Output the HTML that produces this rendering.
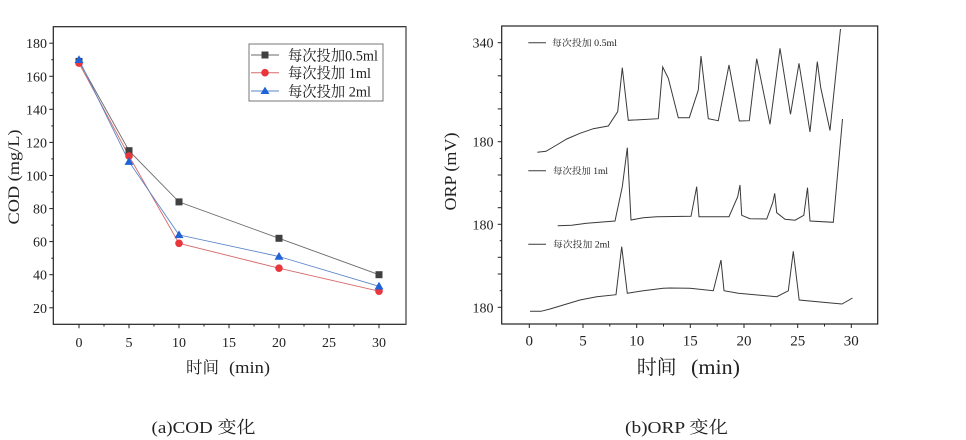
<!DOCTYPE html>
<html><head><meta charset="utf-8"><style>
html,body{margin:0;padding:0;background:#fff;}
svg{display:block;}
text{font-family:"Liberation Serif","Noto Serif CJK SC","Noto Sans CJK SC",serif;fill:#222;}
.cjk{font-family:"Liberation Serif","Noto Serif CJK SC",serif;}
</style></head><body>
<svg width="966" height="440" viewBox="0 0 966 440" xmlns="http://www.w3.org/2000/svg">
<rect width="966" height="440" fill="#fff"/>

<!-- ===== LEFT CHART (COD) ===== -->
<g>
<rect x="53.3" y="26.7" width="352.7" height="297.6" fill="none" stroke="#222" stroke-width="1.2"/>
<line x1="406" y1="26.7" x2="406" y2="324.3" stroke="#777" stroke-width="1.6"/>
<g stroke="#222" stroke-width="1">
<line x1="49.3" y1="307.8" x2="53.3" y2="307.8"/><line x1="49.3" y1="274.7" x2="53.3" y2="274.7"/>
<line x1="49.3" y1="241.6" x2="53.3" y2="241.6"/><line x1="49.3" y1="208.6" x2="53.3" y2="208.6"/>
<line x1="49.3" y1="175.5" x2="53.3" y2="175.5"/><line x1="49.3" y1="142.4" x2="53.3" y2="142.4"/>
<line x1="49.3" y1="109.3" x2="53.3" y2="109.3"/><line x1="49.3" y1="76.3" x2="53.3" y2="76.3"/>
<line x1="49.3" y1="43.2" x2="53.3" y2="43.2"/>
<line x1="51.3" y1="291.2" x2="53.3" y2="291.2"/><line x1="51.3" y1="258.2" x2="53.3" y2="258.2"/>
<line x1="51.3" y1="225.1" x2="53.3" y2="225.1"/><line x1="51.3" y1="192.0" x2="53.3" y2="192.0"/>
<line x1="51.3" y1="158.9" x2="53.3" y2="158.9"/><line x1="51.3" y1="125.9" x2="53.3" y2="125.9"/>
<line x1="51.3" y1="92.8" x2="53.3" y2="92.8"/><line x1="51.3" y1="59.7" x2="53.3" y2="59.7"/>
<line x1="79" y1="324.3" x2="79" y2="328.3"/><line x1="129" y1="324.3" x2="129" y2="328.3"/>
<line x1="179" y1="324.3" x2="179" y2="328.3"/><line x1="229" y1="324.3" x2="229" y2="328.3"/>
<line x1="279" y1="324.3" x2="279" y2="328.3"/><line x1="329" y1="324.3" x2="329" y2="328.3"/>
<line x1="379" y1="324.3" x2="379" y2="328.3"/>
<line x1="104" y1="324.3" x2="104" y2="326.5"/><line x1="154" y1="324.3" x2="154" y2="326.5"/>
<line x1="204" y1="324.3" x2="204" y2="326.5"/><line x1="254" y1="324.3" x2="254" y2="326.5"/>
<line x1="304" y1="324.3" x2="304" y2="326.5"/><line x1="354" y1="324.3" x2="354" y2="326.5"/>
</g>
<g font-size="14" text-anchor="end">
<text x="47" y="312.8">20</text><text x="47" y="279.7">40</text><text x="47" y="246.6">60</text>
<text x="47" y="213.6">80</text><text x="47" y="180.5">100</text><text x="47" y="147.4">120</text>
<text x="47" y="114.3">140</text><text x="47" y="81.3">160</text><text x="47" y="48.2">180</text>
</g>
<g font-size="14" text-anchor="middle">
<text x="79" y="347">0</text><text x="129" y="347">5</text><text x="179" y="347">10</text>
<text x="229" y="347">15</text><text x="279" y="347">20</text><text x="329" y="347">25</text>
<text x="379" y="347">30</text>
</g>
<text class="cjk" x="186" y="373" font-size="16.5" textLength="33" lengthAdjust="spacingAndGlyphs">时间</text>
<text x="229" y="373" font-size="17" textLength="41" lengthAdjust="spacingAndGlyphs">(min)</text>
<text x="0" y="0" font-size="16" transform="translate(19,177) rotate(-90)" text-anchor="middle" textLength="95" lengthAdjust="spacingAndGlyphs">COD (mg/L)</text>

<polyline points="79,61.4 129,150.7 179,201.9 279,238.3 379,274.7" fill="none" stroke="#6a6a6a" stroke-width="0.9"/>
<polyline points="79,63.1 129,156.0 179,243.3 279,268.2 379,291.2" fill="none" stroke="#d86a6a" stroke-width="0.9"/>
<polyline points="79,59.8 129,161.7 179,234.9 279,256.5 379,286.3" fill="none" stroke="#5a84c8" stroke-width="0.9"/>
<g fill="#404040">
<rect x="75.5" y="57.9" width="7" height="7"/><rect x="125.5" y="147.2" width="7" height="7"/>
<rect x="175.5" y="198.4" width="7" height="7"/><rect x="275.5" y="234.8" width="7" height="7"/>
<rect x="375.5" y="271.2" width="7" height="7"/>
</g>
<g fill="#e8363c">
<circle cx="79" cy="63.1" r="3.8"/><circle cx="129" cy="156.0" r="3.8"/><circle cx="179" cy="243.3" r="3.8"/>
<circle cx="279" cy="268.2" r="3.8"/><circle cx="379" cy="291.2" r="3.8"/>
</g>
<g fill="#1f63d6">
<polygon points="79,55.3 83.5,63 74.5,63"/><polygon points="129,157.2 133.5,164.9 124.5,164.9"/>
<polygon points="179,230.4 183.5,238.1 174.5,238.1"/><polygon points="279,252 283.5,259.7 274.5,259.7"/>
<polygon points="379,281.8 383.5,289.5 374.5,289.5"/>
</g>
<rect x="249" y="44" width="134" height="57" fill="#fff" stroke="#777" stroke-width="1"/>
<line x1="251" y1="55" x2="279" y2="55" stroke="#6a6a6a" stroke-width="1"/>
<rect x="261.5" y="51.5" width="7" height="7" fill="#404040"/>
<line x1="251" y1="72.7" x2="279" y2="72.7" stroke="#d86a6a" stroke-width="1"/>
<circle cx="265" cy="72.7" r="3.8" fill="#e8363c"/>
<line x1="251" y1="91" x2="279" y2="91" stroke="#5a84c8" stroke-width="1"/>
<polygon points="265,86.6 269.5,94 260.5,94" fill="#1f63d6"/>
<g class="cjk" font-size="15">
<text x="288" y="60.5" textLength="90" lengthAdjust="spacingAndGlyphs">每次投加0.5ml</text>
<text x="288" y="78.2" textLength="83" lengthAdjust="spacingAndGlyphs">每次投加 1ml</text>
<text x="288" y="96.5" textLength="83" lengthAdjust="spacingAndGlyphs">每次投加 2ml</text>
</g>
</g>

<!-- ===== RIGHT CHART (ORP) ===== -->
<g>
<rect x="501.7" y="26" width="376" height="298" fill="none" stroke="#222" stroke-width="1.2"/>
<g stroke="#222" stroke-width="1">
<line x1="497.7" y1="42.7" x2="501.7" y2="42.7"/><line x1="499.7" y1="59.3" x2="501.7" y2="59.3"/>
<line x1="497.7" y1="75.8" x2="501.7" y2="75.8"/><line x1="499.7" y1="92.4" x2="501.7" y2="92.4"/>
<line x1="497.7" y1="108.9" x2="501.7" y2="108.9"/><line x1="499.7" y1="125.5" x2="501.7" y2="125.5"/>
<line x1="497.7" y1="141.7" x2="501.7" y2="141.7"/><line x1="499.7" y1="158.4" x2="501.7" y2="158.4"/>
<line x1="497.7" y1="175" x2="501.7" y2="175"/><line x1="499.7" y1="191.3" x2="501.7" y2="191.3"/>
<line x1="497.7" y1="207.7" x2="501.7" y2="207.7"/><line x1="497.7" y1="224.3" x2="501.7" y2="224.3"/>
<line x1="499.7" y1="240.7" x2="501.7" y2="240.7"/><line x1="497.7" y1="257.3" x2="501.7" y2="257.3"/>
<line x1="497.7" y1="274" x2="501.7" y2="274"/><line x1="499.7" y1="290.7" x2="501.7" y2="290.7"/>
<line x1="497.7" y1="307.3" x2="501.7" y2="307.3"/>
<line x1="529.3" y1="324" x2="529.3" y2="328"/><line x1="583" y1="324" x2="583" y2="328"/>
<line x1="636.7" y1="324" x2="636.7" y2="328"/><line x1="690.3" y1="324" x2="690.3" y2="328"/>
<line x1="744" y1="324" x2="744" y2="328"/><line x1="797.7" y1="324" x2="797.7" y2="328"/>
<line x1="851.3" y1="324" x2="851.3" y2="328"/>
<line x1="556.2" y1="324" x2="556.2" y2="326.5"/><line x1="609.8" y1="324" x2="609.8" y2="326.5"/>
<line x1="663.5" y1="324" x2="663.5" y2="326.5"/><line x1="717.2" y1="324" x2="717.2" y2="326.5"/>
<line x1="770.8" y1="324" x2="770.8" y2="326.5"/><line x1="824.5" y1="324" x2="824.5" y2="326.5"/>
</g>
<g font-size="14" text-anchor="end">
<text x="493.5" y="47.7">340</text><text x="493.5" y="146.7">180</text>
<text x="493.5" y="229.3">180</text><text x="493.5" y="312.3">180</text>
</g>
<g font-size="15" text-anchor="middle">
<text x="529.3" y="345.5">0</text><text x="583" y="345.5">5</text><text x="636.7" y="345.5">10</text>
<text x="690.3" y="345.5">15</text><text x="744" y="345.5">20</text><text x="797.7" y="345.5">25</text>
<text x="851.3" y="345.5">30</text>
</g>
<text class="cjk" x="636.7" y="374" font-size="20" textLength="40" lengthAdjust="spacingAndGlyphs">时间</text>
<text x="691" y="374" font-size="21" textLength="49" lengthAdjust="spacingAndGlyphs">(min)</text>
<text x="0" y="0" font-size="17" transform="translate(456,171.5) rotate(-90)" text-anchor="middle" textLength="78" lengthAdjust="spacingAndGlyphs">ORP (mV)</text>

<g fill="none" stroke="#3a3a3a" stroke-width="1">
<polyline points="537.3,152.3 546,151.3 556.7,145 566.7,139 580,133.3 593.3,128.7 608.3,126 617.7,111.7 622.3,67.7 628.3,120.3 658.3,118.7 662.7,67 668.3,78.3 678.3,117.7 689.3,117.7 698.3,90 701,56 708.3,118.7 718.3,120.7 729,65 739.3,121 749.3,120.7 756.7,58.7 770,124.3 780,48.3 790.5,114.3 799,63.3 810,132 817.3,61.7 820.7,87.5 830,130.5 840.5,29"/>
<polyline points="557.7,225.7 571.7,225.3 586.7,223.3 615,221 622.3,186.7 627.3,147.7 631,220 643.3,217.7 656.7,216.7 691,216.3 696.7,186.7 699,216.7 729,216.7 737.7,196.7 740,185 741.7,215.3 750,218.7 766.7,219 772.7,202.7 774.7,193.3 776.7,212.7 785,219.3 795,220.2 803.8,215.3 807.5,187.7 810,221 833.3,222.3 842.5,119"/>
<polyline points="530,311.3 541,311.3 550,309 563.3,305 580,300 596.7,296.7 616,294.7 621.7,246.7 627.3,293.3 643.3,290.7 663.3,288.3 670,288 690,288.3 713.3,290.7 721,260 724,290.7 738.3,293.3 776.7,296.7 788.3,290.8 793.3,251.3 799.2,300 828.3,302.7 842,304 852.5,298"/>
</g>
<g stroke="#3a3a3a" stroke-width="1">
<line x1="528.3" y1="42.7" x2="546" y2="42.7"/>
<line x1="528.3" y1="170.7" x2="546" y2="170.7"/>
<line x1="528.3" y1="244.3" x2="546" y2="244.3"/>
</g>
<g class="cjk" font-size="9" style="fill:#333">
<text x="552" y="46" textLength="65" lengthAdjust="spacingAndGlyphs">每次投加 0.5ml</text>
<text x="553" y="174" textLength="55" lengthAdjust="spacingAndGlyphs">每次投加 1ml</text>
<text x="553" y="247.6" textLength="57" lengthAdjust="spacingAndGlyphs">每次投加 2ml</text>
</g>
</g>

<text x="151.5" y="433" font-size="17" class="cjk" textLength="104" lengthAdjust="spacingAndGlyphs">(a)COD 变化</text>
<text x="625" y="433" font-size="17" class="cjk" textLength="103" lengthAdjust="spacingAndGlyphs">(b)ORP 变化</text>
</svg>
</body></html>
